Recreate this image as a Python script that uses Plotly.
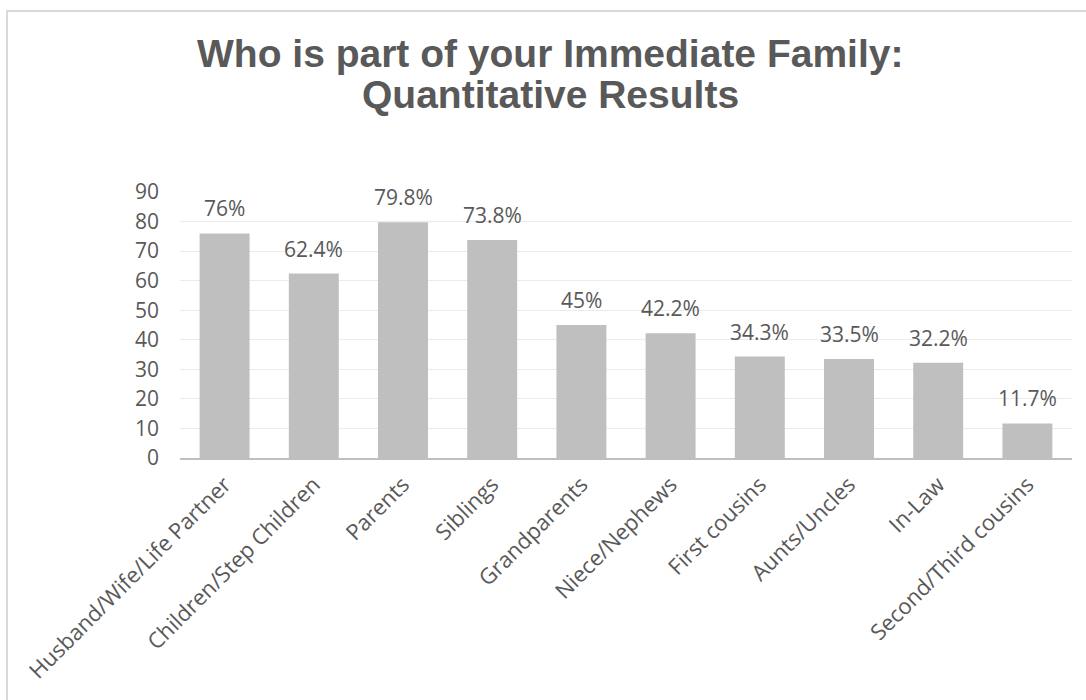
import plotly.graph_objects as go

categories = [
    "Husband/Wife/Life Partner", "Children/Step Children", "Parents", "Siblings",
    "Grandparents", "Niece/Nephews", "First cousins", "Aunts/Uncles", "In-Law",
    "Second/Third cousins",
]
percentages = [76, 62.4, 79.8, 73.8, 45, 42.2, 34.3, 33.5, 32.2, 11.7]
y_ticks = [0, 10, 20, 30, 40, 50, 60, 70, 80, 90]
title_lines = ["Who is part of your Immediate Family:", "Quantitative Results"]

W, H = 1086, 700
ML, MR, MT, MB = 180, 14, 192, 242
TEXT = "#595959"
BODY_FONT = "Open Sans"
BODY_SIZE = 21

fig = go.Figure()
fig.add_trace(go.Bar(
    x=categories, y=percentages,
    marker=dict(color="#bfbfbf", line=dict(width=0)),
    hoverinfo="skip",
))

# value labels above each bar
for cat, val in zip(categories, percentages):
    fig.add_annotation(
        x=cat, y=val, text=f"{val:g}%", showarrow=False,
        yanchor="bottom", yshift=9,
        font=dict(family=BODY_FONT, size=BODY_SIZE, color=TEXT),
    )

# pixel -> paper conversion for frame and title placement
pw, ph = W - ML - MR, H - MT - MB
def px_x(x):
    return (x - ML) / pw
def px_y(y):
    return (H - MB - y) / ph

# two-line title with tight line spacing
for line, yc in zip(title_lines, [53.5, 94.5]):
    fig.add_annotation(
        text=f"<b>{line}</b>", showarrow=False,
        xref="paper", yref="paper", x=px_x(550), y=px_y(yc),
        xanchor="center", yanchor="middle",
        font=dict(family="Liberation Sans, Arial", size=39, color=TEXT),
    )

# outer chart frame
fig.add_shape(type="rect", xref="paper", yref="paper",
              x0=px_x(7), x1=px_x(W + 40), y0=px_y(H + 40), y1=px_y(11),
              line=dict(color="#d9d9d9", width=2), fillcolor="rgba(0,0,0,0)",
              layer="below")

fig.update_layout(
    width=W, height=H,
    margin=dict(l=ML, r=MR, t=MT, b=MB, autoexpand=False),
    paper_bgcolor="white", plot_bgcolor="white",
    bargap=0.44,
    showlegend=False,
    yaxis=dict(
        range=[0, 90], tickvals=y_ticks, showgrid=True, gridcolor="#ebebeb",
        gridwidth=1, zeroline=False, showline=False,
        tickfont=dict(family=BODY_FONT, size=BODY_SIZE, color=TEXT),
        ticklabelstandoff=20,
    ),
    xaxis=dict(
        showline=True, linecolor="#bfbfbf", linewidth=2,
        tickangle=-45, ticks="",
        tickfont=dict(family=BODY_FONT, size=22, color=TEXT),
        ticklabelstandoff=3,
    ),
)

fig.write_html("out.html")
